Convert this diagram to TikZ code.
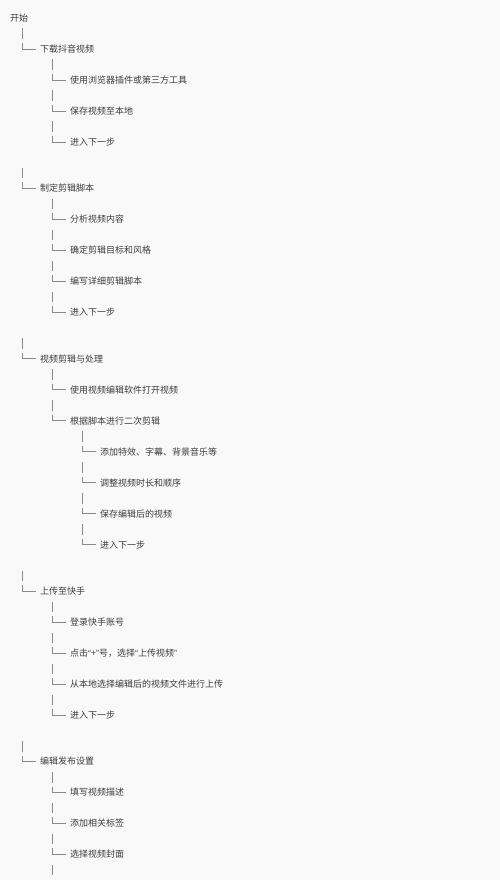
\documentclass[tikz,border=0pt]{standalone}
\usepackage{fontspec}
\setmainfont{Noto Sans CJK SC}
\newfontfamily\latinq{Liberation Sans}
\definecolor{txt}{HTML}{3C3C3C}
\definecolor{ln}{HTML}{8A8A8A}
\definecolor{bg}{HTML}{F9F9F9}
\tikzset{
  lbl/.style={anchor=west, inner sep=0pt, text=txt,
    font=\fontsize{9pt}{10pt}\selectfont, text height=7.8pt, text depth=1pt},
  conn/.style={draw=ln, line width=0.8pt},
}
% name, level, row, text
\newcommand\treeitem[4]{%
  \node[lbl] (#1) at ({10+30*#2},{18+15.49*#3}) {#4};
  \draw[conn] ([xshift=-18pt,yshift=20.5pt]#1.west) -- ([xshift=-18pt,yshift=10pt]#1.west);
  \draw[conn] ([xshift=-18pt,yshift=6pt]#1.west) |- ([xshift=-4pt,yshift=0pt]#1.west);
}
\begin{document}
\begin{tikzpicture}[x=1pt,y=-1pt]
\fill[bg] (0,0) rectangle (500,880);
\useasboundingbox (0,0) rectangle (500,880);
\node[lbl] (root) at (10,18) {开始};
\treeitem{a}{1}{2}{下载抖音视频}
\treeitem{a1}{2}{4}{使用浏览器插件或第三方工具}
\treeitem{a2}{2}{6}{保存视频至本地}
\treeitem{a3}{2}{8}{进入下一步}
\treeitem{b}{1}{11}{制定剪辑脚本}
\treeitem{b1}{2}{13}{分析视频内容}
\treeitem{b2}{2}{15}{确定剪辑目标和风格}
\treeitem{b3}{2}{17}{编写详细剪辑脚本}
\treeitem{b4}{2}{19}{进入下一步}
\treeitem{c}{1}{22}{视频剪辑与处理}
\treeitem{c1}{2}{24}{使用视频编辑软件打开视频}
\treeitem{c2}{2}{26}{根据脚本进行二次剪辑}
\treeitem{c21}{3}{28}{添加特效、字幕、背景音乐等}
\treeitem{c22}{3}{30}{调整视频时长和顺序}
\treeitem{c23}{3}{32}{保存编辑后的视频}
\treeitem{c24}{3}{34}{进入下一步}
\treeitem{d}{1}{37}{上传至快手}
\treeitem{d1}{2}{39}{登录快手账号}
\treeitem{d2}{2}{41}{点击{\latinq “}+{\latinq ”}号，选择{\latinq “}上传视频{\latinq ”}}
\treeitem{d3}{2}{43}{从本地选择编辑后的视频文件进行上传}
\treeitem{d4}{2}{45}{进入下一步}
\treeitem{e}{1}{48}{编辑发布设置}
\treeitem{e1}{2}{50}{填写视频描述}
\treeitem{e2}{2}{52}{添加相关标签}
\treeitem{e3}{2}{54}{选择视频封面}
\coordinate (eend) at ([yshift=-15.49pt]e3.west);
\draw[conn] ([xshift=-18pt,yshift=5pt]eend) -- ([xshift=-18pt,yshift=-5.5pt]eend);
\end{tikzpicture}
\end{document}
